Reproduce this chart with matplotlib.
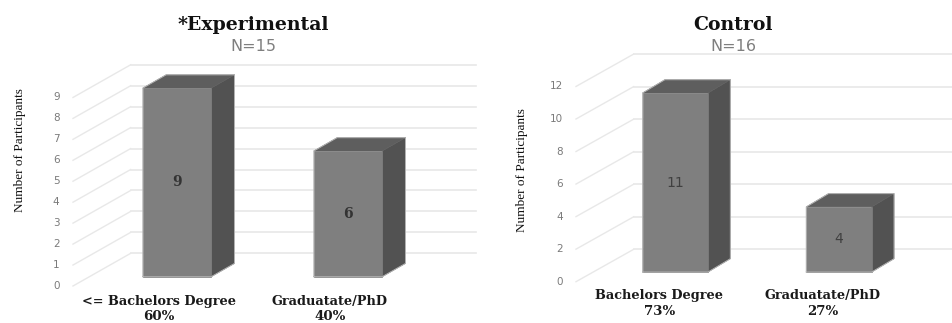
import matplotlib
matplotlib.use("Agg")
import matplotlib.pyplot as plt
from matplotlib.patches import Polygon

W, H = 953, 323

# chart values
exp_title = "*Experimental"
exp_n = "N=15"
exp_labels = ["<= Bachelors Degree", "Graduatate/PhD"]
exp_pcts = ["60%", "40%"]
exp_values = [9, 6]
exp_ticks = [0, 1, 2, 3, 4, 5, 6, 7, 8, 9]

ctrl_title = "Control"
ctrl_n = "N=16"
ctrl_labels = ["Bachelors Degree", "Graduatate/PhD"]
ctrl_pcts = ["73%", "27%"]
ctrl_values = [11, 4]
ctrl_ticks = [0, 2, 4, 6, 8, 10, 12]

FRONT = "#7f7f7f"
SIDE = "#525252"
TOP = "#5e5e5e"
GRID = "#e8e8e8"
EDGE = "#b4b4b4"
SERIF = "Liberation Serif"
WIDE_SERIF = "DejaVu Serif"
SANS = "DejaVu Sans"
WALL_DX = 57.7  # px the floor diagonal runs across


def draw_panel(fig, title, n_text, labels, pcts, values, ticks, x0, step, base, unit,
               right, wall_left, wall_back, floor_y, bar_dx, tick_x, ylab_x, ylab_y,
               label_shift, label_y, title_x, val_font, val_weight, val_color):
    # whole-figure axes: x is category index, y is participant count
    ax = fig.add_axes([0, 0, 1, 1])
    ax.patch.set_alpha(0)
    ax.axis("off")
    ax.set_xlim(-x0 / step, (W - x0) / step)
    ax.set_ylim((base - H) / unit, base / unit)

    def xpx(p):
        return (p - x0) / step

    def ypx(p):
        return (base - p) / unit

    # wall lines, back of the floor is higher than the front
    rise = (floor_y - wall_back) / unit
    y_front = ypx(floor_y)
    for t in ticks:
        yy = y_front + t
        ax.plot([xpx(wall_left), xpx(wall_left + WALL_DX)], [yy, yy + rise],
                color=GRID, lw=1, zorder=1)
        ax.plot([xpx(wall_left + WALL_DX), xpx(right)], [yy + rise, yy + rise],
                color=GRID, lw=1.2, zorder=1)
        ax.text(xpx(tick_x), yy, str(t), ha="right", va="center", fontsize=7.5,
                family=SANS, color="#7a7a7a", zorder=2)

    # bars: front face plus two extruded faces
    width = 0.4
    dx = bar_dx / step
    dy = 13.3 / unit
    ax.bar(range(len(values)), values, width=width, color=FRONT, edgecolor=FRONT, lw=0.5, zorder=4)
    for i, v in enumerate(values):
        l, r = i - width / 2, i + width / 2
        ax.add_patch(Polygon([(r, 0), (r + dx, dy), (r + dx, v + dy), (r, v)],
                             facecolor=SIDE, edgecolor=SIDE, lw=0.4, zorder=3))
        ax.add_patch(Polygon([(l, v), (l + dx, v + dy), (r + dx, v + dy), (r, v)],
                             facecolor=TOP, edgecolor=TOP, lw=0.4, zorder=3))
        # pale outline round the extruded shape
        ax.plot([l, l, l + dx, r + dx, r + dx, r, l], [0, v, v + dy, v + dy, dy, 0, 0],
                color=EDGE, lw=0.7, zorder=5, solid_joinstyle="round")
        ax.text(i, v / 2, str(v), ha="center", va="center", fontsize=val_font[1], family=val_font[0],
                weight=val_weight, color=val_color, zorder=6)
        ax.text(i + label_shift / step, ypx(label_y), labels[i], ha="center", va="center",
                fontsize=9.3, family=WIDE_SERIF, weight="bold", color="#1a1a1a")
        ax.text(i + label_shift / step, ypx(label_y + 15.5), pcts[i], ha="center", va="center",
                fontsize=9.6, family=WIDE_SERIF, weight="bold", color="#1a1a1a")

    ax.text(xpx(title_x), ypx(25), title, ha="center", va="center", fontsize=13.6,
            family=WIDE_SERIF, weight="bold", color="#111111")
    ax.text(xpx(title_x), ypx(46.5), n_text, ha="center", va="center", fontsize=11.5,
            family=SANS, color="#7f7f7f")
    ax.text(xpx(ylab_x), ypx(ylab_y), "Number of Participants", rotation=90, ha="center",
            va="center", fontsize=9.5, family=SERIF, color="#111111")


fig = plt.figure(figsize=(W / 100, H / 100), dpi=100)

draw_panel(fig, exp_title, exp_n, exp_labels, exp_pcts, exp_values, exp_ticks,
           x0=177, step=171, base=276.7, unit=20.95, right=476, wall_left=73,
           wall_back=253.3, floor_y=286, bar_dx=23.3, tick_x=59.5, ylab_x=20, ylab_y=150,
           label_shift=-18, label_y=301.5, title_x=253,
           val_font=(WIDE_SERIF, 10), val_weight="bold", val_color="#333333")

draw_panel(fig, ctrl_title, ctrl_n, ctrl_labels, ctrl_pcts, ctrl_values, ctrl_ticks,
           x0=675.3, step=163.7, base=272, unit=16.27, right=953, wall_left=576,
           wall_back=249.3, floor_y=281.7, bar_dx=22.3, tick_x=563, ylab_x=522.5, ylab_y=170,
           label_shift=-16, label_y=296, title_x=733,
           val_font=(SANS, 10), val_weight="normal", val_color="#404040")

fig.savefig("out.png", dpi=100)
